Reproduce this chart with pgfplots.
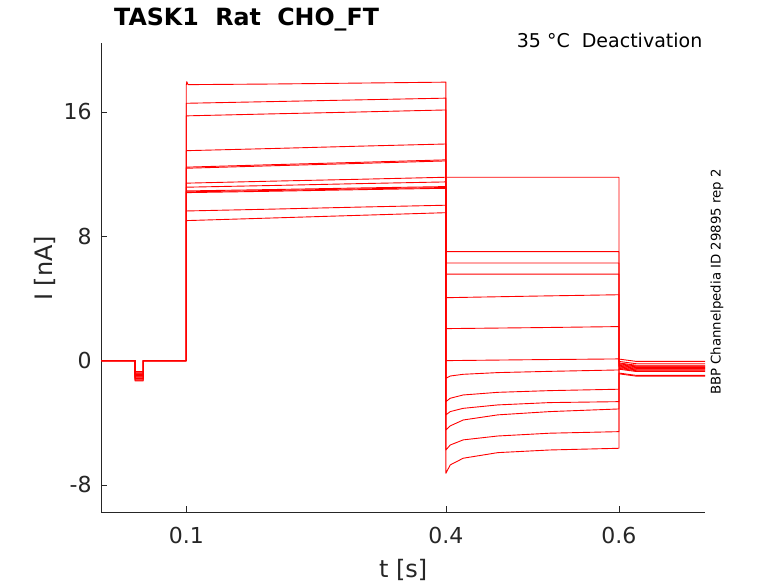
\documentclass[border=0pt]{standalone}
\usepackage{fontspec}
\setmainfont{DejaVu Sans}
\usepackage{pgfplots}
\pgfplotsset{compat=1.18}
\definecolor{axcol}{RGB}{38,38,38}
\tikzset{tr/.style={draw=red, solid, mark=none, line width=0.9pt, line join=round}}
\begin{document}
\begin{tikzpicture}[x=1pt,y=1pt]
\useasboundingbox (0,0) rectangle (778,583);
\begin{axis}[
  at={(101.3pt,70.7pt)}, anchor=south west,
  scale only axis, width=603.7pt, height=469pt,
  xmin=0.0018, xmax=0.6994, ymin=-9.76, ymax=20.42,
  axis lines=left,
  axis line style={-, draw=axcol, line width=0.6pt},
  every outer x axis line/.append style={-},
  every outer y axis line/.append style={-},
  tick align=inside, major tick length=6pt,
  tick style={draw=axcol, line width=0.6pt},
  xtick={0.1,0.4,0.6}, xticklabels={0.1,0.4,0.6},
  ytick={-8,0,8,16}, yticklabels={-8,0,8,16},
  tick label style={font=\fontsize{22}{26}\selectfont, text=axcol},
  yticklabel style={anchor=east, inner sep=0pt, xshift=-9.5pt},
  xticklabel style={anchor=north, inner sep=0pt, yshift=-14.2pt},
  xlabel={t [s]}, ylabel={I [nA]},
  label style={font=\fontsize{24}{28}\selectfont, text=axcol},
  xlabel style={at={(axis description cs:0.5,-0.1388)}, anchor=base},
  ylabel style={at={(axis description cs:-0.0808,0.52)}, anchor=base, rotate=0},
  clip=true,
]
% S1
\addplot[tr] coordinates {(0.002,0)(0.0407,0)(0.0407,-1.3)(0.0503,-1.3)(0.0503,0)(0.1,0)(0.1,17.74)(0.1006,17.95)(0.102,17.76)(0.2,17.80)(0.3,17.86)(0.4,17.92)(0.4,-7.25)(0.405,-6.71)(0.42,-6.28)(0.46,-5.92)(0.52,-5.75)(0.6,-5.64)(0.6,-0.85)(0.62,-1.0)(0.6994,-1.0)};
% S2
\addplot[tr] coordinates {(0.002,0)(0.0407,0)(0.0407,-1.2)(0.0503,-1.2)(0.0503,0)(0.1,0)(0.1,16.56)(0.2,16.67)(0.3,16.78)(0.4,16.89)(0.4,-5.75)(0.405,-5.43)(0.42,-5.10)(0.46,-4.85)(0.52,-4.67)(0.6,-4.57)(0.6,-0.8)(0.62,-0.95)(0.6994,-0.95)};
% S3
\addplot[tr] coordinates {(0.002,0)(0.0407,0)(0.0407,-1.1)(0.0503,-1.1)(0.0503,0)(0.1,0)(0.1,15.75)(0.2,15.88)(0.3,16.00)(0.4,16.13)(0.4,-4.46)(0.405,-4.20)(0.42,-3.82)(0.46,-3.49)(0.52,-3.28)(0.6,-3.11)(0.6,-0.55)(0.62,-0.7)(0.6994,-0.7)};
% S4
\addplot[tr] coordinates {(0.002,0)(0.0407,0)(0.0407,-1.0)(0.0503,-1.0)(0.0503,0)(0.1,0)(0.1,13.51)(0.2,13.65)(0.3,13.80)(0.4,13.94)(0.4,-3.49)(0.405,-3.28)(0.42,-3.07)(0.46,-2.85)(0.52,-2.70)(0.6,-2.64)(0.6,-0.5)(0.62,-0.65)(0.6994,-0.65)};
% S5
\addplot[tr] coordinates {(0.002,0)(0.0407,0)(0.0407,-0.9)(0.0503,-0.9)(0.0503,0)(0.1,0)(0.1,12.45)(0.2,12.61)(0.3,12.76)(0.4,12.92)(0.4,-2.64)(0.405,-2.42)(0.42,-2.21)(0.46,-2.04)(0.52,-1.93)(0.6,-1.84)(0.6,-0.25)(0.62,-0.4)(0.6994,-0.4)};
% S6
\addplot[tr] coordinates {(0.002,0)(0.0407,0)(0.0407,-0.8)(0.0503,-0.8)(0.0503,0)(0.1,0)(0.1,12.38)(0.2,12.54)(0.3,12.69)(0.4,12.85)(0.4,-1.14)(0.405,-0.99)(0.42,-0.88)(0.46,-0.77)(0.52,-0.69)(0.6,-0.60)(0.6,0.1)(0.62,-0.05)(0.6994,-0.05)};
% S7
\addplot[tr] coordinates {(0.002,0)(0.0407,0)(0.0407,-0.75)(0.0503,-0.75)(0.0503,0)(0.1,0)(0.1,11.42)(0.2,11.55)(0.3,11.67)(0.4,11.80)(0.5,11.80)(0.6,11.80)(0.6,-0.15)(0.62,-0.3)(0.6994,-0.3)};
% S8
\addplot[tr] coordinates {(0.002,0)(0.0407,0)(0.0407,-1.25)(0.0503,-1.25)(0.0503,0)(0.1,0)(0.1,11.16)(0.2,11.27)(0.3,11.39)(0.4,11.50)(0.4,7.01)(0.6,7.01)(0.6,-0.3)(0.62,-0.45)(0.6994,-0.45)};
% S9
\addplot[tr] coordinates {(0.002,0)(0.0407,0)(0.0407,-1.15)(0.0503,-1.15)(0.0503,0)(0.1,0)(0.1,10.92)(0.2,11.01)(0.3,11.11)(0.4,11.20)(0.4,6.28)(0.6,6.28)(0.6,-0.35)(0.62,-0.5)(0.6994,-0.5)};
% S10
\addplot[tr] coordinates {(0.002,0)(0.0407,0)(0.0407,-1.05)(0.0503,-1.05)(0.0503,0)(0.1,0)(0.1,10.81)(0.2,10.90)(0.3,11.00)(0.4,11.09)(0.4,5.57)(0.6,5.57)(0.6,-0.4)(0.62,-0.55)(0.6994,-0.55)};
% S11
\addplot[tr] coordinates {(0.002,0)(0.0407,0)(0.0407,-0.95)(0.0503,-0.95)(0.0503,0)(0.1,0)(0.1,10.86)(0.2,10.95)(0.3,11.05)(0.4,11.14)(0.4,4.05)(0.5,4.15)(0.6,4.24)(0.6,-0.45)(0.62,-0.6)(0.6994,-0.6)};
% S12
\addplot[tr] coordinates {(0.002,0)(0.0407,0)(0.0407,-0.85)(0.0503,-0.85)(0.0503,0)(0.1,0)(0.1,9.63)(0.2,9.75)(0.3,9.88)(0.4,10.00)(0.4,2.06)(0.5,2.12)(0.6,2.19)(0.6,-0.2)(0.62,-0.35)(0.6994,-0.35)};
% S13
\addplot[tr] coordinates {(0.002,0)(0.0407,0)(0.0407,-0.7)(0.0503,-0.7)(0.0503,0)(0.1,0)(0.1,9.01)(0.2,9.18)(0.3,9.35)(0.4,9.52)(0.4,0.0)(0.5,0.06)(0.6,0.11)(0.6,-0.05)(0.62,-0.2)(0.6994,-0.2)};
\end{axis}
\node[anchor=base west, inner sep=0pt, font=\bfseries\fontsize{23.7}{28}\selectfont] at (114,557) {TASK1\ \ Rat\ \ CHO\_FT};
\node[anchor=base east, inner sep=0pt, font=\fontsize{19}{23}\selectfont] at (702.5,535.7) {35 °C\ \ Deactivation};
\node[rotate=90, anchor=base west, inner sep=0pt, font=\fontsize{13.3}{16}\selectfont] at (720.7,188) {BBP Channelpedia ID 29895 rep 2};
\end{tikzpicture}
\end{document}
